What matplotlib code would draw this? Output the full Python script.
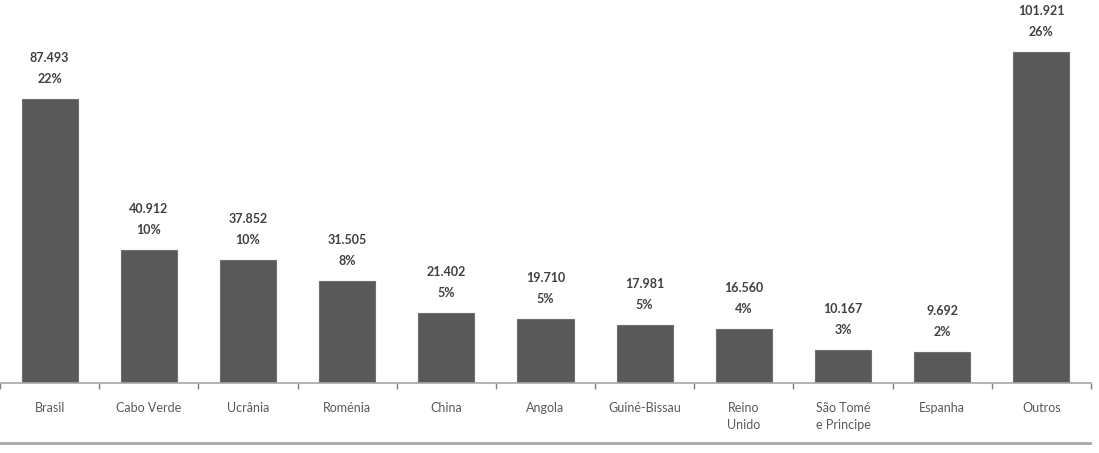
import numpy as np
import matplotlib.pyplot as plt
from matplotlib.lines import Line2D

categories = ['Brasil', 'Cabo Verde', 'Ucrânia', 'Roménia', 'China', 'Angola',
              'Guiné-Bissau', 'Reino\nUnido', 'São Tomé\ne Principe', 'Espanha', 'Outros']
values = [87493, 40912, 37852, 31505, 21402, 19710, 17981, 16560, 10167, 9692, 101921]
value_labels = ['87.493', '40.912', '37.852', '31.505', '21.402', '19.710',
                '17.981', '16.560', '10.167', '9.692', '101.921']
pct_labels = ['22%', '10%', '10%', '8%', '5%', '5%', '5%', '4%', '3%', '2%', '26%']

plt.rcParams['font.family'] = ['Lato', 'DejaVu Sans']

fig = plt.figure(figsize=(10.99, 4.53), dpi=100)
ax = fig.add_axes([0.0, 70 / 453, 1091 / 1099, 383 / 453])

x = np.arange(len(categories))
bars = ax.bar(x, values, width=0.565, color='#595959', edgecolor='#6e6e6e', linewidth=0.8)

# valor + percentagem por cima de cada barra
for b, v, p in zip(bars, value_labels, pct_labels):
    h = b.get_height()
    cx = b.get_x() + b.get_width() / 2
    ax.annotate(p, (cx, h), xytext=(0, 20), textcoords='offset pixels',
                ha='center', va='center', fontsize=9, fontweight='bold', color='#404040')
    ax.annotate(v, (cx, h), xytext=(0, 41), textcoords='offset pixels',
                ha='center', va='center', fontsize=9, fontweight='bold', color='#404040')

ax.set_xlim(-0.478, 10.49)
ax.set_ylim(0, 117930)

for s in ['top', 'right', 'left']:
    ax.spines[s].set_visible(False)
ax.spines['bottom'].set_color('#a6a6a6')
ax.spines['bottom'].set_linewidth(1.2)
ax.set_yticks([])

# marcas entre categorias, nomes ao centro
ax.set_xticks(np.arange(len(categories) + 1) - 0.5)
ax.set_xticklabels([])
ax.tick_params(axis='x', which='major', length=4, color='#7f7f7f', width=1)
ax.set_xticks(x, minor=True)
ax.set_xticklabels(categories, minor=True, fontsize=9, color='#595959',
                   va='top', linespacing=1.5)
ax.tick_params(axis='x', which='minor', length=0, pad=14)

# linha inferior
fig.add_artist(Line2D([0.0, 1090 / 1099], [1 - 443 / 453] * 2, color='#a6a6a6', lw=2))

fig.savefig('out.png', dpi=100)
